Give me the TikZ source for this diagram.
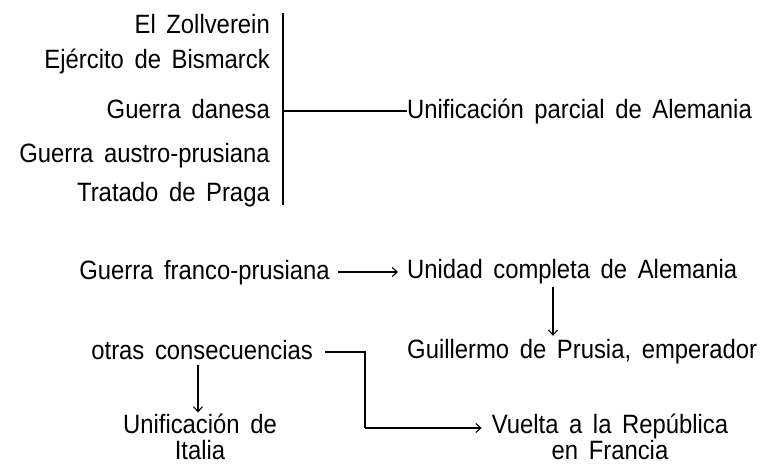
\documentclass[tikz,border=0pt]{standalone}
\usepackage{fontspec}
\setmainfont{Liberation Sans}[WordSpace=1.6, FakeStretch=0.9]
\usetikzlibrary{arrows.meta,calc}
\tikzset{
  lbl/.style={inner sep=0pt, font=\fontsize{26.5}{26}\selectfont, text height=19.5pt, text depth=5.5pt},
  mlbl/.style={inner sep=0pt, font=\fontsize{26.5}{26}\selectfont, align=center},
  ln/.style={line width=1.2pt},
  arr/.style={line width=1.2pt, -{Straight Barb[length=5pt,width=9pt,line width=1.1pt]}}
}
\begin{document}
\begin{tikzpicture}[x=1pt,y=-1pt]
\useasboundingbox (0,0) rectangle (770,464);
% top group
\node[lbl, anchor=base east] (z)  at (270,33)  {El Zollverein};
\node[lbl, anchor=base east] (eb) at (270,68)  {Ejército de Bismarck};
\node[lbl, anchor=base east] (gd) at (270,118) {Guerra danesa};
\node[lbl, anchor=base east] (ga) at (270,162) {Guerra austro-prusiana};
\node[lbl, anchor=base east] (tp) at (270,201) {Tratado de Praga};
\node[lbl, anchor=base west] (up) at (407,118) {Unificación parcial de Alemania};
\coordinate (btop) at (283,13);
\coordinate (bbot) at (283,205);
\draw[ln] (btop) -- (bbot);
\draw[ln] (btop |- gd.east) -- (up.west);
% middle
\node[lbl, anchor=base east] (gf) at (330,279) {Guerra franco-prusiana};
\node[lbl, anchor=base west] (uc) at (407,278) {Unidad completa de Alemania};
\draw[arr, shorten <=8pt, shorten >=9pt] (gf.east) -- (gf.east -| uc.west);
\node[lbl, anchor=base west] (gp) at (407,358) {Guillermo de Prusia, emperador};
\coordinate (dx) at (553,0);
\draw[arr, shorten <=3.5pt, shorten >=2.5pt] (uc.south -| dx) -- (gp.north -| dx);
% bottom
\node[lbl, anchor=base east] (oc) at (313,359) {otras consecuencias};
\node[mlbl, anchor=north] (ui) at (200,414) {Unificación de\\Italia};
\node[mlbl, anchor=north] (vr) at (610,414) {Vuelta a la República\\en Francia};
\coordinate (cx) at (198,0);
\draw[arr, shorten >=1.5pt] (oc.south -| cx) -- (ui.north -| cx);
\coordinate (kn) at (365,428);
\draw[ln, shorten <=12pt] (oc.east) -- (oc.east -| kn) -- (kn);
\draw[arr, shorten >=10pt] (kn) -- (kn -| vr.west);
\end{tikzpicture}
\end{document}
